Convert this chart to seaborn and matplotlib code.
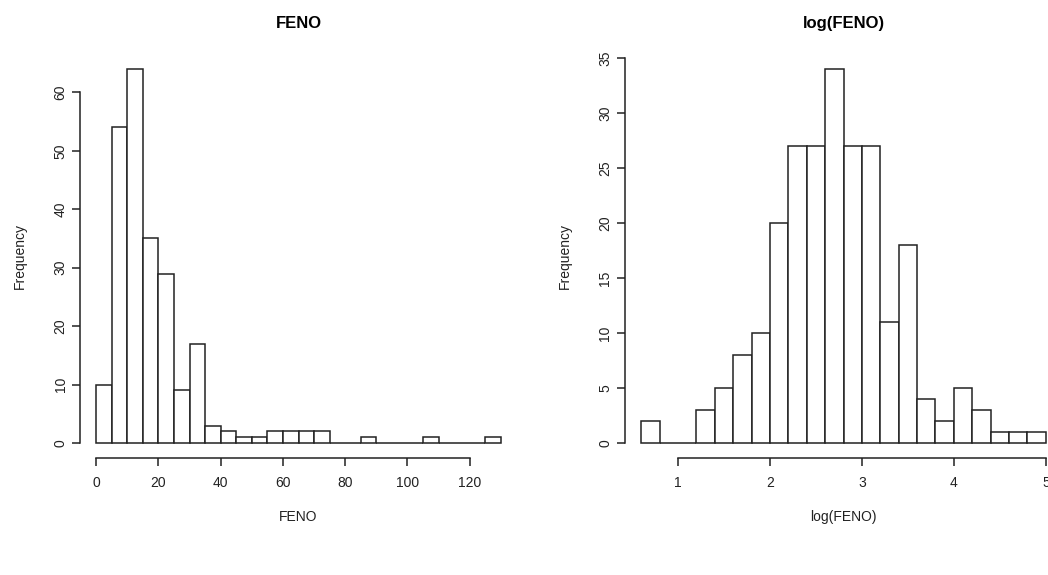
import numpy as np
import pandas as pd
import matplotlib
matplotlib.use("Agg")
import matplotlib.pyplot as plt
import seaborn as sns

sns.set_theme(style="ticks")
plt.rcParams["font.family"] = ["Liberation Sans", "DejaVu Sans"]

# FENO histogram, bins of width 5 from 0 to 130
feno_edges = [0, 5, 10, 15, 20, 25, 30, 35, 40, 45, 50, 55, 60, 65,
              70, 75, 80, 85, 90, 95, 100, 105, 110, 115, 120, 125, 130]
feno_counts = [10, 54, 64, 35, 29, 9, 17, 3, 2, 1, 1, 2, 2, 2,
               2, 0, 0, 1, 0, 0, 0, 1, 0, 0, 0, 1]

# log(FENO) histogram, bins of width 0.2 from 0.6 to 5.0
log_edges = [0.6, 0.8, 1.0, 1.2, 1.4, 1.6, 1.8, 2.0, 2.2, 2.4, 2.6, 2.8,
             3.0, 3.2, 3.4, 3.6, 3.8, 4.0, 4.2, 4.4, 4.6, 4.8, 5.0]
log_counts = [2, 0, 0, 3, 5, 8, 10, 20, 27, 27, 34, 27,
              27, 11, 18, 4, 2, 5, 3, 1, 1, 1]

feno_xticks = [0, 20, 40, 60, 80, 100, 120]
feno_yticks = [0, 10, 20, 30, 40, 50, 60]
log_xticks = [1, 2, 3, 4, 5]
log_yticks = [0, 5, 10, 15, 20, 25, 30, 35]

fig = plt.figure(figsize=(10.48, 5.75), dpi=100)
ax1 = fig.add_axes([80 / 1048, 1 - 458 / 575, 437 / 1048, 404 / 575])
ax2 = fig.add_axes([625 / 1048, 1 - 458 / 575, 437 / 1048, 404 / 575])

panels = [
    (ax1, feno_edges, feno_counts, feno_xticks, feno_yticks, "FENO"),
    (ax2, log_edges, log_counts, log_xticks, log_yticks, "log(FENO)"),
]

ink = "#222222"
for ax, edges, counts, xt, yt, name in panels:
    e = np.array(edges, dtype=float)
    df = pd.DataFrame({
        "value": (e[:-1] + e[1:]) / 2,
        "n": counts
    })
    sns.histplot(
        data=df,
        x="value",
        weights="n",
        bins=list(edges),
        stat="count",
        color="white",
        edgecolor=ink,
        linewidth=1.1,
        alpha=1,
        ax=ax
    )
    # R style: 4% padding around the data range
    xr = e[-1] - e[0]
    ymax = max(counts)
    ax.set_xlim(e[0] - 0.04 * xr, e[-1] + 0.04 * xr)
    ax.set_ylim(-0.04 * ymax, ymax * 1.04)
    ax.set_xticks(xt)
    ax.set_yticks(yt)
    for s in ["top", "right"]:
        ax.spines[s].set_visible(False)
    ax.spines["left"].set_bounds(yt[0], yt[-1])
    ax.spines["bottom"].set_bounds(xt[0], xt[-1])
    for s in ["left", "bottom"]:
        ax.spines[s].set_color(ink)
        ax.spines[s].set_linewidth(1.1)
    ax.tick_params(axis="x", length=6, width=1.1, color=ink,
                   labelsize=10, labelcolor=ink, pad=7)
    ax.tick_params(axis="y", length=6, width=1.1, color=ink,
                   labelsize=10, labelcolor=ink, pad=3)
    plt.setp(ax.get_yticklabels(), rotation=90, va="center")
    ax.set_title(name, fontsize=12, fontweight="bold", color="black", pad=19)
    ax.set_xlabel(name, fontsize=10, color=ink)
    ax.set_ylabel("Frequency", fontsize=10, color=ink)
    ax.xaxis.set_label_coords(0.5, -0.128)
    ax.yaxis.set_label_coords(-0.122, 0.5)
    ax.grid(False)

fig.savefig("out.png", dpi=100)
plt.close()
